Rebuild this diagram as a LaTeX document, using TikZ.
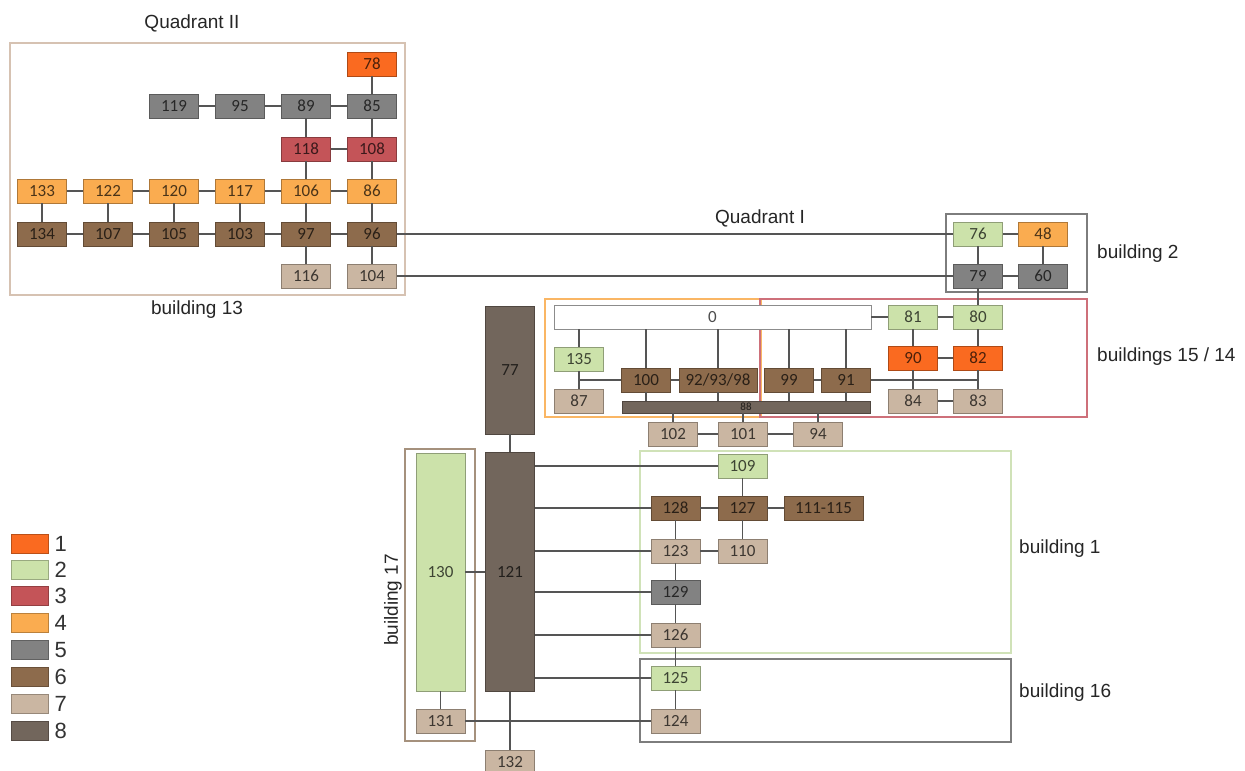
\documentclass[tikz,border=0pt]{standalone}
\usepackage{fontspec}
\setmainfont{Liberation Sans}
\newfontfamily\numfont{Carlito}
\usetikzlibrary{calc}

\definecolor{catA}{RGB}{250,106,32}
\definecolor{catB}{RGB}{204,226,170}
\definecolor{catC}{RGB}{196,84,88}
\definecolor{catD}{RGB}{250,172,80}
\definecolor{catE}{RGB}{130,130,130}
\definecolor{catF}{RGB}{141,107,76}
\definecolor{catG}{RGB}{202,182,162}
\definecolor{catH}{RGB}{114,102,92}
\definecolor{wire}{RGB}{85,85,85}
\definecolor{frameTan}{RGB}{214,194,178}
\definecolor{frameGray}{RGB}{125,125,125}
\definecolor{frameOrange}{RGB}{250,182,100}
\definecolor{frameRed}{RGB}{206,112,122}
\definecolor{frameGreen}{RGB}{208,226,184}
\definecolor{frameBrown}{RGB}{165,145,125}

\tikzset{
  unit/.style={draw=#1!70!black, fill=#1, text=#1!30!black, minimum width=49pt,
    minimum height=24pt, inner sep=0pt, line width=0.9pt,
    font=\numfont\fontsize{17}{17}\selectfont},
  key/.style={draw=#1!75!black, fill=#1, minimum width=37pt, minimum height=19pt,
    inner sep=0pt, line width=0.9pt},
  keylabel/.style={font=\fontsize{22}{22}\selectfont, text=black!80, inner sep=0pt,
    xshift=6pt},
  title/.style={font=\fontsize{19}{19}\selectfont, text=black!85, inner sep=0pt},
  frame/.style={draw=#1, line width=1.3pt},
  wire/.style={draw=wire, line width=1.3pt}
}

\begin{document}
\begin{tikzpicture}[x=1pt,y=-1pt]
  \useasboundingbox[fill=white] (0,0) rectangle (1245,771);

  % frames
  \draw[frame=frameTan] (10,43) rectangle (405,295);
  \draw[frame=frameGray] (946,214) rectangle (1087,292);
  \draw[frame=frameOrange] (545,299) rectangle (761,417);
  \draw[frame=frameRed] (760,299) rectangle (1087,417);
  \draw[frame=frameGreen] (640,451) rectangle (1011,653);
  \draw[frame=frameGray] (640,659) rectangle (1011,742);
  \draw[frame=frameBrown] (405,449) rectangle (475,741);

  % titles
  \node[title] (q2) at (192,23) {Quadrant II};
  \node[title] (b13) at (197,310) {building 13};
  \node[title] (q1) at (760,218) {Quadrant I};
  \node[title,anchor=west] (b2) at (1097,254) {building 2};
  \node[title,anchor=west] (b1514) at (1097,357) {buildings 15 / 14};
  \node[title,anchor=west] (b1) at (1019,549) {building 1};
  \node[title,anchor=west] (b16) at (1019,693) {building 16};
  \node[title,rotate=90] (b17) at (393,600) {building 17};

  % quadrant II
  \node[unit=catA] (n78) at (372,64) {78};
  \node[unit=catE] (n119) at (174,106) {119};
  \node[unit=catE] (n95) at (240,106) {95};
  \node[unit=catE] (n89) at (306,106) {89};
  \node[unit=catE] (n85) at (372,106) {85};
  \node[unit=catC] (n118) at (306,149) {118};
  \node[unit=catC] (n108) at (372,149) {108};
  \node[unit=catD] (n133) at (42,191) {133};
  \node[unit=catD] (n122) at (108,191) {122};
  \node[unit=catD] (n120) at (174,191) {120};
  \node[unit=catD] (n117) at (240,191) {117};
  \node[unit=catD] (n106) at (306,191) {106};
  \node[unit=catD] (n86) at (372,191) {86};
  \node[unit=catF] (n134) at (42,234) {134};
  \node[unit=catF] (n107) at (108,234) {107};
  \node[unit=catF] (n105) at (174,234) {105};
  \node[unit=catF] (n103) at (240,234) {103};
  \node[unit=catF] (n97) at (306,234) {97};
  \node[unit=catF] (n96) at (372,234) {96};
  \node[unit=catG] (n116) at (306,276) {116};
  \node[unit=catG] (n104) at (372,276) {104};

  % building 2
  \node[unit=catB] (n76) at (978,234) {76};
  \node[unit=catD] (n48) at (1043,234) {48};
  \node[unit=catE] (n79) at (978,276) {79};
  \node[unit=catE] (n60) at (1043,276) {60};

  % buildings 15 / 14
  \node[unit=white, draw=black!45, minimum width=317pt] (n0) at (712.5,317) {0};
  \node[unit=catB] (n81) at (913,317) {81};
  \node[unit=catB] (n80) at (978,317) {80};
  \node[unit=catA] (n90) at (913,358) {90};
  \node[unit=catA] (n82) at (978,358) {82};
  \node[unit=catG] (n84) at (913,401) {84};
  \node[unit=catG] (n83) at (978,401) {83};
  \node[unit=catB] (n135) at (579,359) {135};
  \node[unit=catG] (n87) at (579,401) {87};
  \node[unit=catF] (n100) at (646,380) {100};
  \node[unit=catF, minimum width=78pt] (n92) at (718,380) {92/93/98};
  \node[unit=catF] (n99) at (789,380) {99};
  \node[unit=catF] (n91) at (846,380) {91};
  \node[unit=catH, minimum width=248pt, minimum height=12pt,
    font=\numfont\fontsize{11}{11}\selectfont] (n88) at (746,407) {88};
  \node[unit=catG] (n102) at (673,434) {102};
  \node[unit=catG] (n101) at (743,434) {101};
  \node[unit=catG] (n94) at (818,434) {94};

  % buildings 17, 1, 16
  \node[unit=catH, minimum height=128pt] (n77) at (510,370) {77};
  \node[unit=catH, minimum height=239pt] (n121) at (510,572) {121};
  \node[unit=catB, minimum height=238pt] (n130) at (440.5,572) {130};
  \node[unit=catG] (n131) at (440.5,721) {131};
  \node[unit=catG] (n132) at (510,762) {132};
  \node[unit=catB] (n109) at (742.5,466) {109};
  \node[unit=catF] (n128) at (675.5,508) {128};
  \node[unit=catF] (n127) at (742.5,508) {127};
  \node[unit=catF, minimum width=79pt] (n111) at (823.5,508) {111-115};
  \node[unit=catG] (n123) at (675.5,551) {123};
  \node[unit=catG] (n110) at (742.5,551) {110};
  \node[unit=catE] (n129) at (675.5,592) {129};
  \node[unit=catG] (n126) at (675.5,635) {126};
  \node[unit=catB] (n125) at (675.5,678) {125};
  \node[unit=catG] (n124) at (675.5,721) {124};

  % legend
  \node[key=catA, label={[keylabel]right:1}] (k1) at (29.5,543.5) {};
  \node[key=catB, label={[keylabel]right:2}] (k2) at (29.5,569.5) {};
  \node[key=catC, label={[keylabel]right:3}] (k3) at (29.5,596) {};
  \node[key=catD, label={[keylabel]right:4}] (k4) at (29.5,623) {};
  \node[key=catE, label={[keylabel]right:5}] (k5) at (29.5,650) {};
  \node[key=catF, label={[keylabel]right:6}] (k6) at (29.5,677) {};
  \node[key=catG, label={[keylabel]right:7}] (k7) at (29.5,703.5) {};
  \node[key=catH, label={[keylabel]right:8}] (k8) at (29.5,731) {};

  % wires, quadrant II
  \draw[wire] (n78) -- (n85);
  \draw[wire] (n119) -- (n95) -- (n89) -- (n85);
  \draw[wire] (n89) -- (n118) -- (n106) -- (n97) -- (n116);
  \draw[wire] (n85) -- (n108) -- (n86) -- (n96) -- (n104);
  \draw[wire] (n118) -- (n108);
  \draw[wire] (n133) -- (n122) -- (n120) -- (n117) -- (n106) -- (n86);
  \draw[wire] (n134) -- (n107) -- (n105) -- (n103) -- (n97) -- (n96);
  \draw[wire] (n133) -- (n134);
  \draw[wire] (n122) -- (n107);
  \draw[wire] (n120) -- (n105);
  \draw[wire] (n117) -- (n103);
  \draw[wire] (n96) -- (n76);
  \draw[wire] (n104) -- (n79);

  % wires, building 2 and buildings 15 / 14
  \draw[wire] (n76) -- (n48) -- (n60) -- (n79) -- (n76);
  \draw[wire] (n79) -- (n80);
  \draw[wire] (n0) -- (n81) -- (n80) -- (n82) -- (n83) -- (n84) -- (n90) -- (n81);
  \draw[wire] (n90) -- (n82);
  \draw[wire] (n91) -- (n91 -| n82);
  \draw[wire] (n135) -- (n135 |- n0.south);
  \draw[wire] (n100) -- (n100 |- n0.south);
  \draw[wire] (n92) -- (n92 |- n0.south);
  \draw[wire] (n99) -- (n99 |- n0.south);
  \draw[wire] (n91) -- (n91 |- n0.south);
  \draw[wire] (n135) -- (n87);
  \draw[wire] (n100) -- (n100 -| n135);
  \draw[wire] (n100) -- (n92);
  \draw[wire] (n99) -- (n91);
  \draw[wire] (n100) -- (n100 |- n88.north);
  \draw[wire] (n92) -- (n92 |- n88.north);
  \draw[wire] (n99) -- (n99 |- n88.north);
  \draw[wire] (n91) -- (n91 |- n88.north);
  \draw[wire] (n102) -- (n102 |- n88.south);
  \draw[wire] (n101) -- (n101 |- n88.south);
  \draw[wire] (n94) -- (n94 |- n88.south);
  \draw[wire] (n102) -- (n101) -- (n94);

  % wires, buildings 17, 1, 16
  \draw[wire] (n77) -- (n121) -- (n132);
  \draw[wire] (n130) -- (n121);
  \draw[wire] (n130) -- (n131) -- (n124);
  \draw[wire] (n109) -- (n109 -| n121.east);
  \draw[wire] (n128) -- (n128 -| n121.east);
  \draw[wire] (n123) -- (n123 -| n121.east);
  \draw[wire] (n129) -- (n129 -| n121.east);
  \draw[wire] (n126) -- (n126 -| n121.east);
  \draw[wire] (n125) -- (n125 -| n121.east);
  \draw[wire] (n109) -- (n127) -- (n110) -- (n123) -- (n128) -- (n127) -- (n111);
  \draw[wire] (n123) -- (n129) -- (n126) -- (n125) -- (n124);
\end{tikzpicture}
\end{document}
